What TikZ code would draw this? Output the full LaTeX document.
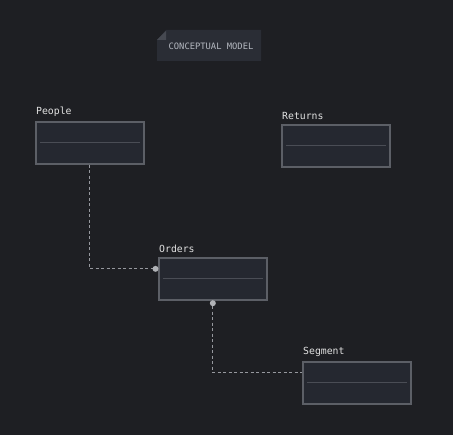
\documentclass[tikz,border=0pt]{standalone}
\usepackage{fontspec}
\setmonofont{DejaVu Sans Mono}
\definecolor{canvasbg}{RGB}{30,31,35}
\definecolor{boxfill}{RGB}{37,40,48}
\definecolor{boxedge}{RGB}{92,95,102}
\definecolor{boxrule}{RGB}{74,77,85}
\definecolor{labeltext}{RGB}{226,226,226}
\definecolor{notefill}{RGB}{42,45,53}
\definecolor{notefold}{RGB}{70,73,81}
\definecolor{notetext}{RGB}{180,184,192}
\definecolor{linkgray}{RGB}{150,152,158}
\definecolor{knobgray}{RGB}{176,178,182}

\begin{document}
\begin{tikzpicture}[x=1pt,y=-1pt]

%
% Styles
%
\tikzstyle{entity} = [rectangle,draw=boxedge,fill=boxfill,line width=1.7pt,minimum width=108pt,minimum height=42pt,anchor=north west,inner sep=0pt]
\tikzstyle{ename}  = [anchor=south west,inner sep=0pt,yshift=4pt,text=labeltext,font=\ttfamily\fontsize{9.8}{10}\selectfont]
\tikzstyle{divider}= [draw=boxrule,line width=1pt]
\tikzstyle{link}   = [draw=linkgray,line width=0.8pt,dash pattern=on 3pt off 2.5pt]
\tikzstyle{knob}   = [circle,fill=knobgray,inner sep=0pt,minimum size=6pt]

\fill[canvasbg] (0,0) rectangle (453,435);
\useasboundingbox (0,0) rectangle (453,435);

% title note with folded corner
\fill[notefill] (166,30) -- (261,30) -- (261,61) -- (157,61) -- (157,40) -- cycle;
\fill[notefold] (166,31) -- (166,40) -- (157,40) -- cycle;
\node[text=notetext,font=\ttfamily\fontsize{8.8}{9}\selectfont,inner sep=0pt] (title) at (211,46) {CONCEPTUAL MODEL};

% entities
\node[entity] (people)  at (35,121)  {};
\node[entity] (returns) at (281,124) {};
\node[entity] (orders)  at (158,257) {};
\node[entity] (segment) at (302,361) {};

\node[ename] at ([xshift=1pt]people.north west)  {People};
\node[ename] at ([xshift=1pt]returns.north west) {Returns};
\node[ename] at ([xshift=1pt]orders.north west)  {Orders};
\node[ename] at ([xshift=1pt]segment.north west) {Segment};

\foreach \e in {people,returns,orders,segment}
  \draw[divider] ([xshift=5pt]\e.west) -- ([xshift=-5pt]\e.east);

% relations
\draw[link] (people.south) |- ([yshift=10pt]orders.west);
\draw[link] (orders.south) |- ([yshift=10pt]segment.west);
\node[knob] at ([xshift=-2.5pt,yshift=10pt]orders.west) {};
\node[knob] at ([yshift=-2.5pt]orders.south) {};

\end{tikzpicture}
\end{document}
